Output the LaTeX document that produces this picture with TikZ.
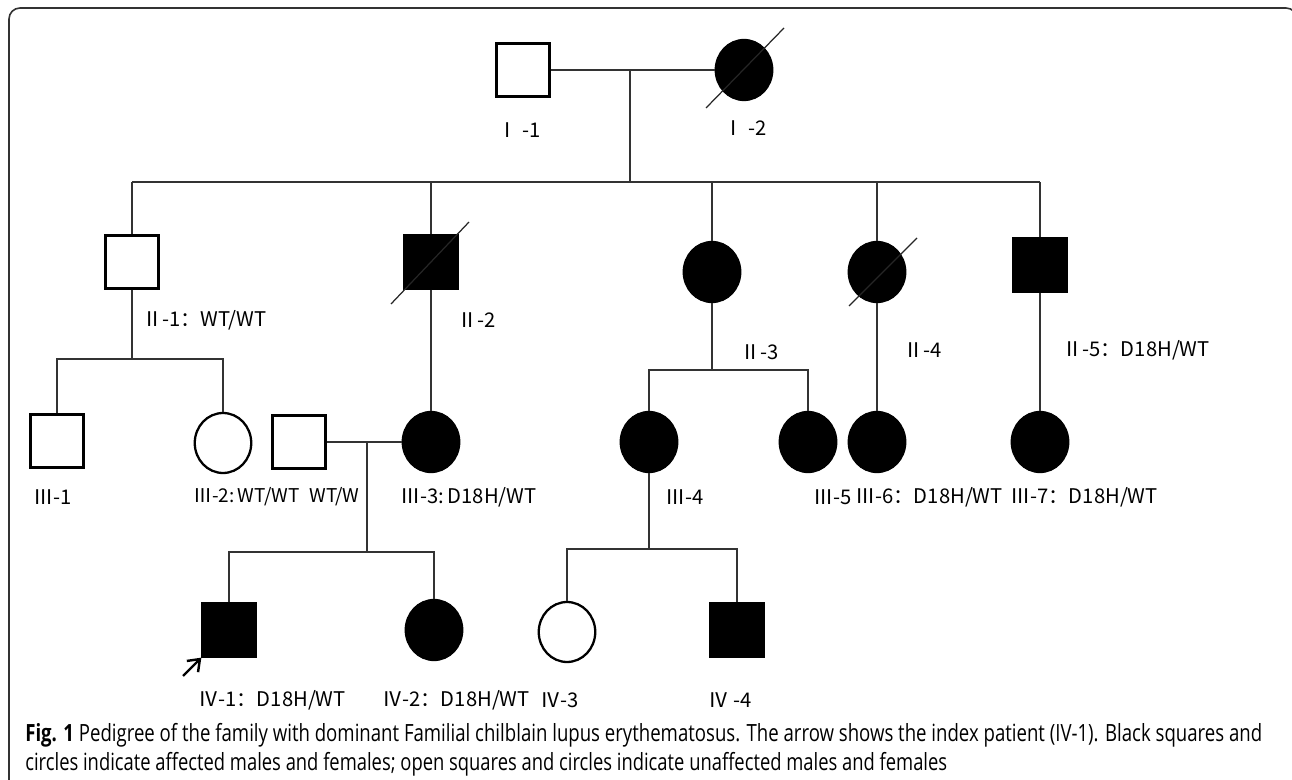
\documentclass[tikz,border=0pt]{standalone}
\usepackage{fontspec}
\usepackage{graphicx}
\setmainfont{Open Sans}
\newfontfamily\pedfont{Noto Sans CJK SC}
\usetikzlibrary{shapes.geometric, arrows.meta}

\begin{document}
\begin{tikzpicture}[
    x=0.02cm, y=-0.02cm,
    male/.style={rectangle, draw, line width=1.3pt, minimum size=1.06cm, inner sep=0pt},
    female/.style={ellipse, draw, line width=1.3pt, minimum width=1.13cm, minimum height=1.2cm, inner sep=0pt},
    affected/.style={fill=black},
    line/.style={draw, line width=0.8pt, black!80},
    slash/.style={draw, line width=0.7pt, black!85},
    pointer/.style={draw, line width=1.4pt, -{Straight Barb[length=6pt, width=9pt]}},
    idtext/.style={font=\pedfont\fontsize{11.5}{13}\selectfont, inner sep=0pt},
    smalltext/.style={font=\pedfont\fontsize{10.8}{13}\selectfont, inner sep=0pt},
    frame/.style={draw, line width=0.9pt, black!80, rounded corners=0.22cm},
    every node/.style={font=\small}
]
\useasboundingbox (0,0) rectangle (1292,780);

% Frame
\draw[frame] (9,800) -- (9,8) -- (1297,8) -- (1297,800);

% Generation I
\node[male] (I1) at (523,70) {};
\node[female, affected] (I2) at (744,70) {};

% Generation II
\node[male] (II1) at (132,262) {};
\node[male, affected] (II2) at (431,262) {};
\node[female, affected] (II3) at (712,272) {};
\node[female, affected] (II4) at (877,272) {};
\node[male, affected] (II5) at (1040,265) {};

% Generation III
\node[male] (III1) at (57,441) {};
\node[female] (III2) at (223,443) {};
\node[male] (Sp) at (299,442) {};
\node[female, affected] (III3) at (431,442) {};
\node[female, affected] (III4) at (649,442) {};
\node[female, affected] (III5) at (808,442) {};
\node[female, affected] (III6) at (877,442) {};
\node[female, affected] (III7) at (1040,442) {};

% Generation IV
\node[male, affected] (IV1) at (229,630) {};
\node[female, affected] (IV2) at (434,630) {};
\node[female] (IV3) at (567,632) {};
\node[male, affected] (IV4) at (737,630) {};

% Sibship points
\coordinate (m1) at (630,70);
\coordinate (s1) at (630,182);
\coordinate (s2) at (132,359);
\coordinate (m3) at (367,442);
\coordinate (s4) at (367,552);
\coordinate (s3) at (712,370);
\coordinate (s5) at (649,549);

% Lines
\draw[line] (I1) -- (I2);
\draw[line] (m1) -- (s1);
\draw[line] (II1.north |- s1) -- (II5.north |- s1);
\foreach \n in {II1,II2,II3,II4,II5}
    \draw[line] (\n.north) -- (\n.north |- s1);

\draw[line] (II1.south) -- (s2);
\draw[line] (III1.north) -- (III1.north |- s2) -- (III2.north |- s2) -- (III2.north);
\draw[line] (II2.south) -- (III3.north);
\draw[line] (Sp) -- (III3);
\draw[line] (m3) -- (s4);
\draw[line] (IV1.north) -- (IV1.north |- s4) -- (IV2.north |- s4) -- (IV2.north);

\draw[line] (II3.south) -- (s3);
\draw[line] (III4.north) -- (III4.north |- s3) -- (III5.north |- s3) -- (III5.north);
\draw[line] (II4.south) -- (III6.north);
\draw[line] (II5.south) -- (III7.north);
\draw[line] (III4.south) -- (s5);
\draw[line] (IV3.north) -- (IV3.north |- s5) -- (IV4.north |- s5) -- (IV4.north);

% Deceased
\draw[slash] ([shift={(-38,38)}]I2.center) -- ([shift={(40,-42)}]I2.center);
\draw[slash] ([shift={(-40,42)}]II2.center) -- ([shift={(38,-40)}]II2.center);
\draw[slash] ([shift={(-28,34)}]II4.center) -- ([shift={(40,-34)}]II4.center);

% Index patient
\coordinate (ptail) at (183,676);
\draw[pointer] (ptail) -- (IV1.south west);

% Labels
\node[idtext] (lI1) at (519,130) {Ⅰ -1};
\node[idtext] (lI2) at (745,128) {Ⅰ -2};
\node[idtext, anchor=west] (lII1) at (142,320) {Ⅱ-1：WT/WT};
\node[idtext, anchor=west] (lII2) at (457,320) {Ⅱ-2};
\node[idtext, anchor=west] (lII3) at (740,352) {Ⅱ-3};
\node[idtext, anchor=west] (lII4) at (903,350) {Ⅱ-4};
\node[idtext, anchor=west] (lII5) at (1062,350) {Ⅱ-5：D18H/WT};
\node[idtext, anchor=west] (lIII1) at (33,497) {Ⅲ-1};
\node[smalltext, anchor=west] (lIII2) at (193,497) {Ⅲ-2:\,WT/WT};
\node[smalltext, anchor=west] (lSp) at (309,497) {WT/W};
\node[idtext, anchor=west] (lIII3) at (400,497) {Ⅲ-3:\,D18H/WT};
\node[idtext, anchor=west] (lIII4) at (665,497) {Ⅲ-4};
\node[idtext, anchor=west] (lIII5) at (813,497) {Ⅲ-5};
\node[idtext, anchor=west] (lIII6) at (855,497) {Ⅲ-6：D18H/WT};
\node[idtext, anchor=west] (lIII7) at (1010,497) {Ⅲ-7：D18H/WT};
\node[idtext, anchor=west] (lIV1) at (198,700) {Ⅳ-1：D18H/WT};
\node[idtext, anchor=west] (lIV2) at (382,700) {Ⅳ-2：D18H/WT};
\node[idtext, anchor=west] (lIV3) at (540,700) {Ⅳ-3};
\node[idtext, anchor=west] (lIV4) at (708,700) {Ⅳ -4};

% Caption
\node[anchor=base west, inner sep=0pt, font=\fontsize{13.5}{15}\selectfont] (cap1) at (25,741)
    {\resizebox{24.74cm}{\height}{\textbf{Fig. 1} Pedigree of the family with dominant Familial chilblain lupus erythematosus. The arrow shows the index patient (IV-1). Black squares and}};
\node[anchor=base west, inner sep=0pt, font=\fontsize{13.5}{15}\selectfont] (cap2) at (25,770)
    {\resizebox{18.44cm}{\height}{circles indicate affected males and females; open squares and circles indicate unaffected males and females}};

\end{tikzpicture}
\end{document}
